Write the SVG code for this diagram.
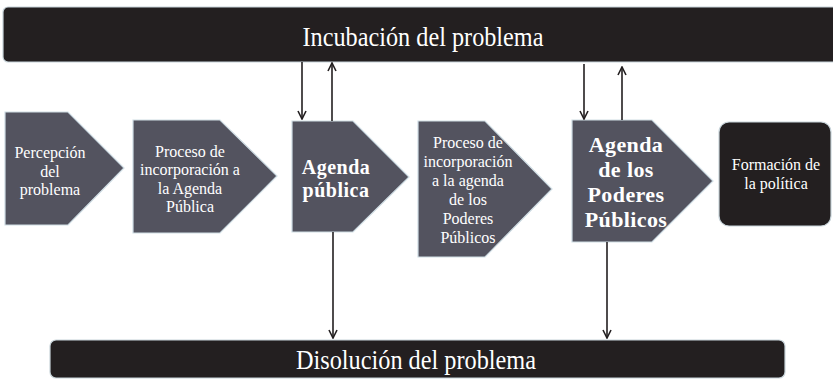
<svg xmlns="http://www.w3.org/2000/svg" width="833" height="381" viewBox="0 0 833 381">
<style>
.bar{fill:#231f20;stroke:#c8d4da;stroke-width:1.2}
.chev{fill:#53535f;stroke:#cfdde4;stroke-width:1.2}
.t{font-family:"Liberation Serif","Times New Roman",serif;fill:#ffffff;text-anchor:middle}
.s{font-size:16px}
.b{font-size:20px;font-weight:bold;letter-spacing:0.5px}
.b2{font-size:22px;font-weight:bold;letter-spacing:0.4px}
.big{font-size:27px}
.c{stroke:#231f20;stroke-width:1.6;fill:none}
</style>
<defs>
<marker id="ah" viewBox="0 0 10 10" refX="9" refY="5" markerWidth="10" markerHeight="10" markerUnits="userSpaceOnUse" orient="auto">
<path d="M1,1 L9,5 L1,9" fill="none" stroke="#231f20" stroke-width="1.6"/>
</marker>
</defs>
<rect width="833" height="381" fill="#ffffff"/>
<g id="incubacion">
<rect class="bar" x="3" y="7" width="840" height="55" rx="5"/>
<text class="t big" x="423" y="46" textLength="241" lengthAdjust="spacingAndGlyphs">Incubación del problema</text>
</g>
<g id="disolucion">
<rect class="bar" x="50" y="340" width="735" height="38" rx="6"/>
<text class="t big" x="416" y="369" textLength="240" lengthAdjust="spacingAndGlyphs">Disolución del problema</text>
</g>
<g id="percepcion">
<polygon class="chev" points="5,112 68,112 124,168 68,225 5,225"/>
<text class="t s" x="50" y="158">Percepción</text>
<text class="t s" x="50" y="177">del</text>
<text class="t s" x="50" y="195">problema</text>
</g>
<g id="proceso1">
<polygon class="chev" points="133,120 220,120 277,176 220,233 133,233"/>
<text class="t s" x="190" y="157">Proceso de</text>
<text class="t s" x="190" y="175">incorporación a</text>
<text class="t s" x="190" y="194">la Agenda</text>
<text class="t s" x="190" y="212">Pública</text>
</g>
<g id="agenda-publica">
<polygon class="chev" points="292,121 353,121 409,177 353,232 292,232"/>
<text class="t b" x="336" y="174">Agenda</text>
<text class="t b" x="336" y="197">pública</text>
</g>
<g id="proceso2">
<polygon class="chev" points="418,121 485,121 552,189 485,257 418,257"/>
<text class="t s" x="468" y="148">Proceso de</text>
<text class="t s" x="468" y="167">incorporación</text>
<text class="t s" x="468" y="186">a la agenda</text>
<text class="t s" x="468" y="205">de los</text>
<text class="t s" x="468" y="224">Poderes</text>
<text class="t s" x="468" y="243">Públicos</text>
</g>
<g id="agenda-poderes">
<polygon class="chev" points="572,120 652,120 713,181 652,242 572,242"/>
<text class="t b2" x="626" y="152">Agenda</text>
<text class="t b2" x="626" y="177">de los</text>
<text class="t b2" x="626" y="202">Poderes</text>
<text class="t b2" x="626" y="227">Públicos</text>
</g>
<g id="formacion">
<rect class="bar" x="719" y="122" width="112" height="104" rx="10"/>
<text class="t s" x="776" y="170">Formación de</text>
<text class="t s" x="776" y="189">la política</text>
</g>
<g id="connectors">
<line class="c" x1="302" y1="62" x2="302" y2="119" marker-end="url(#ah)"/>
<line class="c" x1="332" y1="121" x2="332" y2="63" marker-end="url(#ah)"/>
<line class="c" x1="333" y1="232" x2="333" y2="338" marker-end="url(#ah)"/>
<line class="c" x1="584" y1="64" x2="584" y2="119" marker-end="url(#ah)"/>
<line class="c" x1="622" y1="120" x2="622" y2="67" marker-end="url(#ah)"/>
<line class="c" x1="607" y1="242" x2="607" y2="338" marker-end="url(#ah)"/>
</g>
</svg>
